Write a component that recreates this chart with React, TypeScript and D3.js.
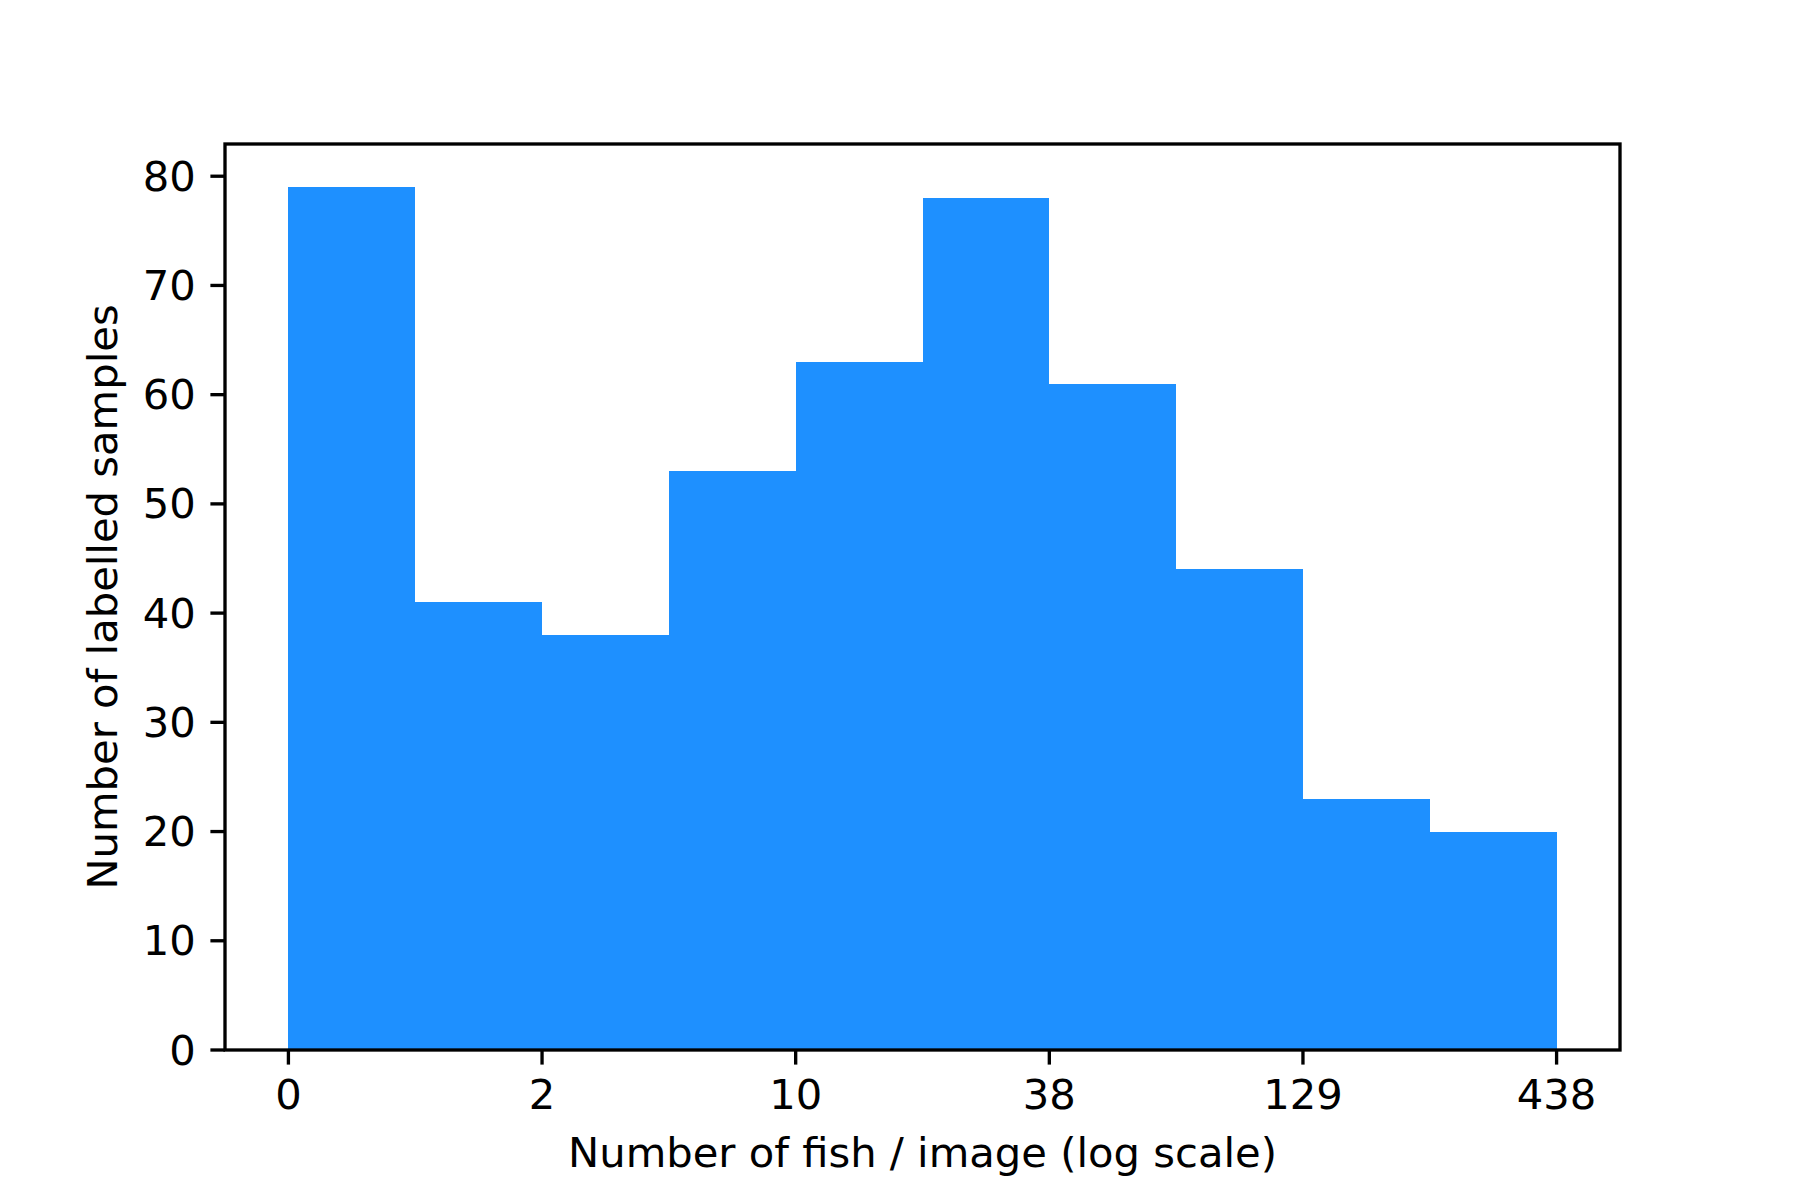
import React from "react";
import * as d3 from "d3";

const binCounts: number[] = [79, 41, 38, 53, 63, 78, 61, 44, 23, 20];
const xTickLabels: string[] = ["0", "2", "10", "38", "129", "438"];
const yTicks: number[] = [0, 10, 20, 30, 40, 50, 60, 70, 80];
const xLabel = "Number of fish / image (log scale)";
const yLabel = "Number of labelled samples";

const W = 1800;
const H = 1200;
const left = 225;
const right = 1620;
const top = 144;
const bottom = 1050;
const FONT = "DejaVu Sans, sans-serif";
const FS = 41.7;
const LW = 3.33;
const TL = 14.6;
const PAD = 14.6;

export default function App() {
  const nBins = binCounts.length;
  const x = d3.scaleLinear().domain([-0.5, nBins + 0.5]).range([left, right]);
  const maxY = d3.max(binCounts) as number;
  const y = d3.scaleLinear().domain([0, maxY * 1.05]).range([bottom, top]);
  const xTickPos = xTickLabels.map((_, i) => i * 2);

  return (
    <svg
      width={W}
      height={H}
      style={{ position: "absolute", left: 0, top: 0, background: "#fff" }}
      fontFamily={FONT}
    >
      <rect x={0} y={0} width={W} height={H} fill="#fff" />
      {binCounts.map((c, i) => (
        <rect
          key={i}
          x={x(i)}
          y={y(c)}
          width={x(i + 1) - x(i)}
          height={y(0) - y(c)}
          fill="#1E90FF"
          shapeRendering="crispEdges"
        />
      ))}
      <rect
        x={left}
        y={top}
        width={right - left}
        height={bottom - top}
        fill="none"
        stroke="#000"
        strokeWidth={LW}
        strokeLinejoin="miter"
      />
      {yTicks.map((t) => (
        <g key={"y" + t}>
          <line x1={left} x2={left - TL} y1={y(t)} y2={y(t)} stroke="#000" strokeWidth={LW} />
          <text
            x={left - TL - PAD}
            y={y(t)}
            textAnchor="end"
            dominantBaseline="central"
            fontSize={FS}
            fill="#000"
          >
            {t}
          </text>
        </g>
      ))}
      {xTickPos.map((p, i) => (
        <g key={"x" + i}>
          <line x1={x(p)} x2={x(p)} y1={bottom} y2={bottom + TL} stroke="#000" strokeWidth={LW} />
          <text
            x={x(p)}
            y={1109}
            textAnchor="middle"
            fontSize={FS}
            fill="#000"
          >
            {xTickLabels[i]}
          </text>
        </g>
      ))}
      <text x={(left + right) / 2} y={1167} textAnchor="middle" fontSize={FS} fill="#000">
        {xLabel}
      </text>
      <text
        transform={`translate(117, ${(top + bottom) / 2}) rotate(-90)`}
        textAnchor="middle"
        fontSize={FS}
        fill="#000"
      >
        {yLabel}
      </text>
    </svg>
  );
}
